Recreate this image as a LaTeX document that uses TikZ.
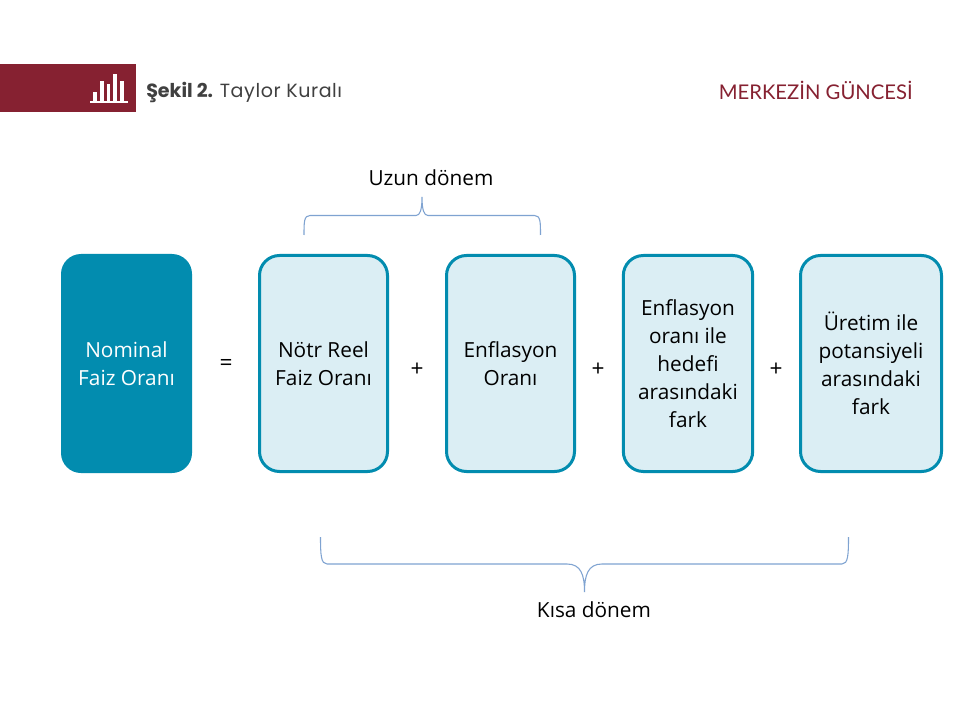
\documentclass[tikz,border=0pt]{standalone}
\usepackage{fontspec}
\setmainfont{Open Sans}
\newfontfamily\headfont{Poppins}
\newfontfamily\brandfont{Lato}
\definecolor{teal1}{HTML}{028CAF}
\definecolor{pale}{HTML}{DBEEF4}
\definecolor{wine}{HTML}{862131}
\definecolor{bracec}{HTML}{7FA3D1}
\definecolor{headgray}{HTML}{404040}
\tikzset{
  x=0.75pt,y=-0.75pt,
  boxbase/.style={rounded corners=15pt,align=center,inner sep=0pt,font=\fontsize{15.6}{21}\selectfont},
  lightbox/.style={boxbase,draw=teal1,line width=2.25pt,fill=pale,text=black},
  darkbox/.style={boxbase,fill=teal1,text=white},
  lab/.style={inner sep=0pt,font=\fontsize{15.6}{21}\selectfont,text=black},
  op/.style={inner sep=0pt,font=\fontsize{17}{20}\selectfont,text=black},
  bracel/.style={draw=bracec,line width=0.8pt},
  bar/.style={fill=white,draw=none}
}
\begin{document}
\begin{tikzpicture}
\useasboundingbox (0,0) rectangle (960,720);
\fill[white] (0,0) rectangle (960,720);
% header
\fill[wine] (0,64) rectangle (136,112);
\fill[bar] (90,101) rectangle (128,103);
\fill[bar] (93,92) rectangle (96.5,101);
\fill[bar] (100,81) rectangle (103.5,101);
\fill[bar] (106.5,84) rectangle (110,101);
\fill[bar] (113,74) rectangle (116.5,101);
\fill[bar] (120,81) rectangle (123.5,101);
\node[anchor=west,inner sep=0pt,text=headgray,font=\headfont\fontsize{14.3}{17}\selectfont] (title) at (146,92.5)
  {\textbf{Şekil 2.} {\addfontfeature{LetterSpace=3}Taylor Kuralı}};
\node[anchor=east,inner sep=0pt,text=wine,font=\brandfont\fontsize{15.2}{18}\selectfont] (brand) at (913,90) {MERKEZİN GÜNCESİ};
% boxes
\node[darkbox,minimum width=98.25pt,minimum height=164.25pt] (a) at (126.5,363.5) {Nominal\\Faiz Oranı};
\node[lightbox,minimum width=96pt,minimum height=162pt] (b) at (323.5,363.5) {Nötr Reel\\Faiz Oranı};
\node[lightbox,minimum width=96pt,minimum height=162pt] (c) at (510.5,363.5) {Enflasyon\\Oranı};
\node[lightbox,minimum width=97pt,minimum height=162pt] (d) at (688,363.5) {Enflasyon\\oranı ile\\hedefi\\arasındaki\\fark};
\node[lightbox,minimum width=105.75pt,minimum height=162pt] (e) at (871,363.5) {Üretim ile\\potansiyeli\\arasındaki\\fark};
\node[op] (eq) at (226,365) {=};
\node[op] (p1) at (417,370) {+};
\node[op] (p2) at (598,370) {+};
\node[op] (p3) at (776,369.5) {+};
% braces
\node[lab] (uzun) at (431,178) {Uzun dönem};
\node[lab] (kisa) at (594,610) {Kısa dönem};
\coordinate (u1) at (304,235);
\coordinate (u2) at (540.5,235);
\coordinate (ut) at (422,197);
\draw[bracel] (u1) .. controls (304,222) and (304,215.5) .. (310,215.5)
  -- (416,215.5) .. controls (420,215.5) and (422,210) .. (ut)
  .. controls (422,210) and (424,215.5) .. (428,215.5)
  -- (534.5,215.5) .. controls (540.5,215.5) and (540.5,222) .. (u2);
\coordinate (k1) at (320.5,537);
\coordinate (k2) at (848.5,537);
\coordinate (kt) at (584.5,592);
\draw[bracel] (k1) .. controls (320.5,555) and (321,564) .. (327,564)
  -- (567,564) .. controls (581,564) and (584.5,575) .. (kt)
  .. controls (584.5,575) and (588,564) .. (602,564)
  -- (842,564) .. controls (848,564) and (848.5,555) .. (k2);
\end{tikzpicture}
\end{document}
